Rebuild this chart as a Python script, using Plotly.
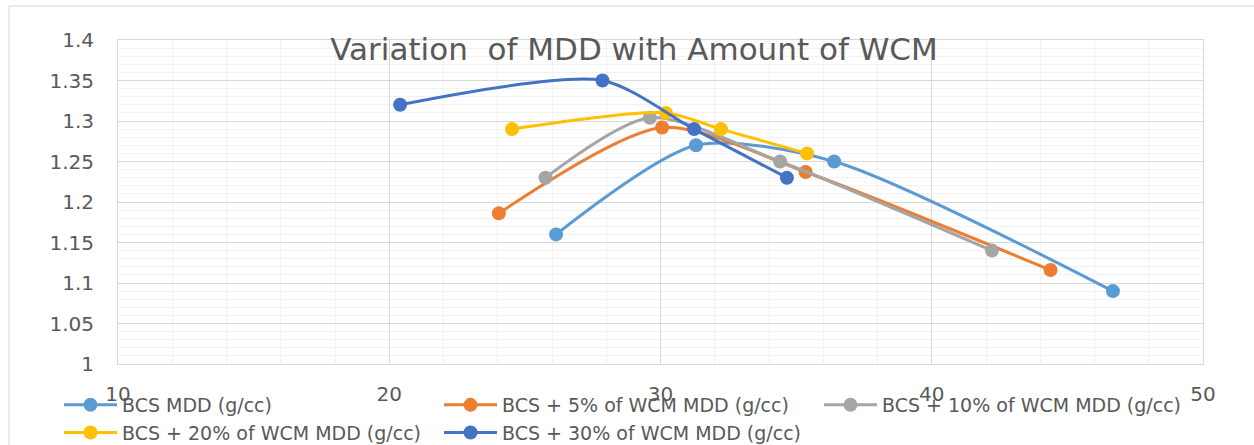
import plotly.graph_objects as go

# Data (x = moisture content %, y = MDD g/cc)
names = [
    "BCS MDD (g/cc)",
    "BCS + 5% of WCM MDD (g/cc)",
    "BCS + 10% of WCM MDD (g/cc)",
    "BCS + 20% of WCM MDD (g/cc)",
    "BCS + 30% of WCM MDD (g/cc)",
]
bcs_x = [26.15, 31.31, 36.4, 46.68]
bcs_y = [1.16, 1.27, 1.25, 1.09]
wcm5_x = [24.04, 30.06, 35.35, 44.38]
wcm5_y = [1.186, 1.292, 1.237, 1.116]
wcm10_x = [25.76, 29.61, 34.41, 42.22]
wcm10_y = [1.23, 1.304, 1.25, 1.14]
wcm20_x = [24.53, 30.2, 32.23, 35.4]
wcm20_y = [1.29, 1.31, 1.29, 1.26]
wcm30_x = [20.4, 27.86, 31.24, 34.66]
wcm30_y = [1.32, 1.35, 1.29, 1.23]
colors = ["#5B9BD5", "#ED7D31", "#A5A5A5", "#FFC000", "#4472C4"]

xs = [bcs_x, wcm5_x, wcm10_x, wcm20_x, wcm30_x]
ys = [bcs_y, wcm5_y, wcm10_y, wcm20_y, wcm30_y]

FONT = "DejaVu Sans"
TXT = "#595959"

fig = go.Figure()
for n, x, y, c in zip(names, xs, ys, colors):
    fig.add_trace(go.Scatter(
        x=x, y=y, name=n, mode="lines+markers",
        line=dict(color=c, width=3, shape="spline", smoothing=0.75),
        marker=dict(color=c, size=14),
    ))

W, H = 1254, 445
L, R, T, B = 118, 1203, 40, 364
pw, ph = R - L, B - T

fig.update_layout(
    width=W, height=H,
    margin=dict(l=L, r=W - R, t=T, b=H - B, autoexpand=False),
    paper_bgcolor="white", plot_bgcolor="white",
    font=dict(family=FONT, color=TXT, size=19),
    title=dict(
        text="Variation  of MDD with Amount of WCM",
        font=dict(family=FONT, size=31, color=TXT),
        xref="container", yref="container",
        x=634 / W, y=1 - 49 / H, xanchor="center", yanchor="middle",
    ),
    showlegend=True,
    legend=dict(
        orientation="h",
        xref="paper", yref="paper",
        x=(59 - L) / pw, y=-(386 - B) / ph, xanchor="left", yanchor="top",
        entrywidth=312, entrywidthmode="pixels",
        itemwidth=53,
        font=dict(family=FONT, size=19, color=TXT),
        bgcolor="rgba(0,0,0,0)",
        tracegroupgap=0,
    ),
    xaxis=dict(
        range=[10, 50], dtick=10, tick0=10,
        showgrid=True, gridcolor="#D9D9D9", gridwidth=1,
        minor=dict(dtick=2, showgrid=True, gridcolor="#F2F2F2", gridwidth=1),
        showline=True, linecolor="#D9D9D9", mirror=True,
        zeroline=False, ticks="", ticklabelstandoff=12, automargin=False,
        tickfont=dict(family=FONT, size=20, color=TXT),
    ),
    yaxis=dict(
        range=[1.0, 1.4], dtick=0.05, tick0=1.0,
        showgrid=True, gridcolor="#D9D9D9", gridwidth=1,
        minor=dict(dtick=0.01, showgrid=True, gridcolor="#F2F2F2", gridwidth=1),
        showline=True, linecolor="#D9D9D9", mirror=True,
        zeroline=False, ticks="", ticklabelstandoff=19, automargin=False,
        tickformat="~g",
        tickfont=dict(family=FONT, size=20, color=TXT),
    ),
    shapes=[dict(
        type="rect", xref="paper", yref="paper",
        x0=(9 - L) / pw, x1=(1262 - L) / pw,
        y0=-(460 - B) / ph, y1=1 + (T - 6) / ph,
        line=dict(color="#D9D9D9", width=1), fillcolor="rgba(0,0,0,0)",
        layer="below",
    )],
)

fig.write_html(
    "out.html",
    config={"displayModeBar": False},
    post_script="document.body.style.margin='0';document.body.style.overflow='hidden';",
)
